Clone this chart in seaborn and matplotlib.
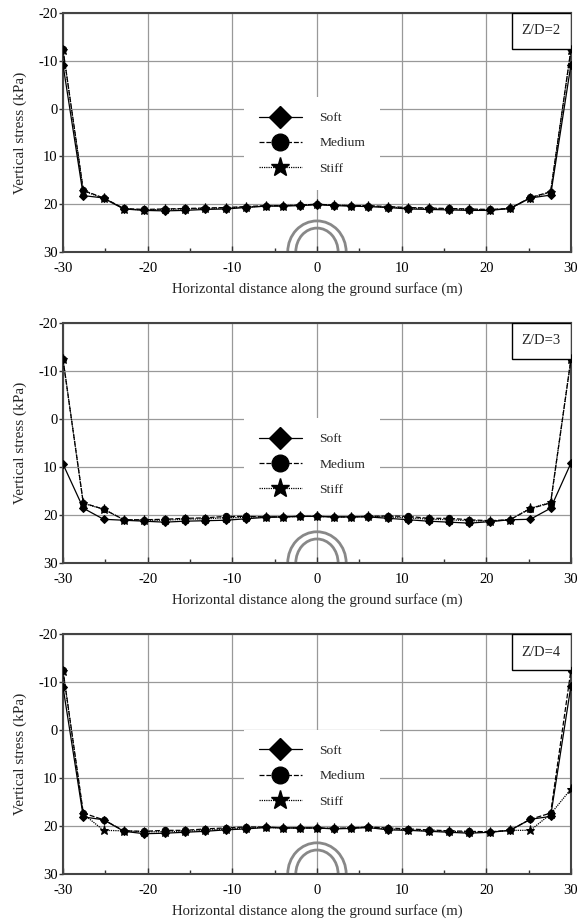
import numpy as np
import pandas as pd
import seaborn as sns
import matplotlib.pyplot as plt
from matplotlib.lines import Line2D
from matplotlib.patches import Arc, Rectangle

# horizontal positions of the surface points (m)
x_pos = [-30, -27.6, -25.2, -22.8, -20.4, -18, -15.6, -13.2, -10.8, -8.4, -6, -4, -2, 0,
         2, 4, 6, 8.4, 10.8, 13.2, 15.6, 18, 20.4, 22.8, 25.2, 27.6, 30]

# Z/D = 2
soft_2 = [-9.2, 18.2, 18.7, 21.0, 21.3, 21.4, 21.3, 21.1, 21.0, 20.7, 20.4, 20.4, 20.3, 20.1,
          20.3, 20.4, 20.5, 20.7, 21.0, 21.1, 21.2, 21.3, 21.3, 20.9, 18.7, 18.1, -9.2]
medium_2 = [-12.4, 17.1, 18.7, 20.9, 21.1, 21.0, 20.9, 20.8, 20.7, 20.5, 20.3, 20.3, 20.2, 20.0,
            20.2, 20.3, 20.3, 20.5, 20.7, 20.8, 20.9, 21.0, 21.1, 20.9, 18.6, 17.4, -12.4]
stiff_2 = [-12.3, 17.2, 18.8, 21.0, 21.2, 21.1, 21.0, 20.9, 20.8, 20.6, 20.4, 20.3, 20.2, 20.0,
           20.2, 20.3, 20.4, 20.6, 20.8, 20.9, 21.0, 21.1, 21.2, 20.9, 18.7, 17.5, -12.3]

# Z/D = 3
soft_3 = [9.4, 18.6, 20.9, 21.1, 21.3, 21.5, 21.3, 21.2, 21.1, 20.8, 20.5, 20.4, 20.3, 20.3,
          20.4, 20.4, 20.4, 20.7, 21.0, 21.3, 21.5, 21.7, 21.4, 21.0, 20.9, 18.6, 9.2]
medium_3 = [-12.4, 17.5, 18.8, 21.0, 21.0, 20.9, 20.7, 20.6, 20.3, 20.3, 20.4, 20.4, 20.3, 20.3,
            20.4, 20.4, 20.3, 20.2, 20.3, 20.7, 20.7, 21.0, 21.2, 21.0, 18.7, 17.5, -12.4]
stiff_3 = [-12.5, 17.6, 18.8, 21.0, 21.1, 21.1, 20.9, 20.8, 20.6, 20.5, 20.4, 20.4, 20.3, 20.3,
           20.4, 20.4, 20.3, 20.4, 20.6, 20.9, 21.0, 21.2, 21.3, 21.0, 18.6, 17.4, -12.4]

# Z/D = 4
soft_4 = [-9.0, 18.1, 18.7, 21.1, 21.6, 21.5, 21.3, 21.1, 20.8, 20.6, 20.3, 20.4, 20.4, 20.4,
          20.6, 20.5, 20.3, 20.8, 20.9, 21.1, 21.3, 21.5, 21.3, 20.9, 18.6, 18.0, -9.2]
medium_4 = [-12.5, 17.3, 18.7, 21.0, 21.1, 20.9, 20.9, 20.6, 20.4, 20.2, 20.2, 20.4, 20.4, 20.4,
            20.5, 20.4, 20.2, 20.4, 20.6, 20.8, 21.0, 21.1, 21.2, 20.9, 18.6, 17.3, -12.5]
stiff_4 = [-12.3, 17.5, 20.9, 21.0, 21.2, 21.2, 21.1, 20.9, 20.6, 20.4, 20.3, 20.4, 20.4, 20.4,
           20.5, 20.4, 20.3, 20.6, 20.8, 21.0, 21.1, 21.3, 21.3, 20.9, 20.9, 17.5, 12.3]

panel_labels = ['Z/D=2', 'Z/D=3', 'Z/D=4']
panel_data = [(soft_2, medium_2, stiff_2), (soft_3, medium_3, stiff_3), (soft_4, medium_4, stiff_4)]
soil_names = ['Soft', 'Medium', 'Stiff']

sns.set_theme(style='ticks')
plt.rcParams['font.family'] = ['Liberation Serif', 'DejaVu Serif']
plt.rcParams['font.size'] = 10
plt.rcParams['axes.unicode_minus'] = False

marker_map = {'Soft': 'D', 'Medium': 'o', 'Stiff': '*'}
dash_map = {'Soft': '', 'Medium': (4, 1.5), 'Stiff': (1, 0.8)}
msize = {'Soft': 4, 'Medium': 4.5, 'Stiff': 6.5}

fig = plt.figure(figsize=(5.82, 9.21), dpi=100)
boxes = [(0.7264, 0.9859), (0.3887, 0.6496), (0.0510, 0.3116)]
legend_y = [0.455, 0.41, 0.408]

for i in range(3):
    bot, top = boxes[i]
    ax = fig.add_axes([0.1082, bot, 0.8728, top - bot])
    rows = []
    for name, vals in zip(soil_names, panel_data[i]):
        for xv, yv in zip(x_pos, vals):
            rows.append({'x': xv, 'stress': yv, 'soil': name})
    df = pd.DataFrame(rows)

    sns.lineplot(data=df, x='x', y='stress', style='soil', markers=marker_map,
                 dashes=dash_map, color='black', linewidth=0.9, markersize=4.5,
                 markeredgecolor='black', legend=False, ax=ax, zorder=3)
    # per-series marker sizes
    for line, name in zip(ax.get_lines(), soil_names):
        line.set_markersize(msize[name])

    ax.set_xlim(-30, 30)
    ax.set_ylim(30, -20)
    ax.set_xticks([-30, -20, -10, 0, 10, 20, 30])
    ax.set_xticks([-25, -15, -5, 5, 15, 25], minor=True)
    ax.set_yticks([-20, -10, 0, 10, 20, 30])
    ax.grid(True, which='major', color='#999999', linewidth=0.9)
    ax.tick_params(axis='x', which='both', direction='in', colors='#333333', labelcolor='black',
                   labelsize=10.5, length=4, width=1, pad=7)
    ax.tick_params(axis='y', direction='out', colors='#333333', labelcolor='black',
                   labelsize=10.5, length=3, width=1, pad=1)
    ax.tick_params(which='minor', length=3)
    for s in ax.spines.values():
        s.set_color('#444444')
        s.set_linewidth(1.5)
        s.set_visible(True)

    ax.set_xlabel('Horizontal distance along the ground surface (m)', fontsize=10.6, labelpad=5)
    ax.set_ylabel('Vertical stress (kPa)', fontsize=11, labelpad=8)

    # tunnel sketch
    ax.add_patch(Arc((0, 30), 6.9, 13.0, theta1=180, theta2=360, color='#888888', lw=2, zorder=2))
    ax.add_patch(Arc((0, 30), 5.0, 10.0, theta1=180, theta2=360, color='#888888', lw=2, zorder=2))

    # Z/D label box
    ax.add_patch(Rectangle((0.883, 0.85), 0.117, 0.15, transform=ax.transAxes,
                           facecolor='white', edgecolor='black', lw=1, zorder=4))
    ax.text(0.9415, 0.925, panel_labels[i], transform=ax.transAxes, ha='center', va='center',
            fontsize=10.5, zorder=5)

    handles = [Line2D([], [], color='black', lw=0.9, marker=marker_map[n],
                      markersize={'Soft': 11, 'Medium': 12, 'Stiff': 14}[n],
                      linestyle={'Soft': '-', 'Medium': (0, (4, 1.5)), 'Stiff': (0, (1, 0.8))}[n])
               for n in soil_names]
    leg = ax.legend(handles, soil_names, loc='center', bbox_to_anchor=(0.49, legend_y[i]),
                    frameon=True, fancybox=False, framealpha=1, facecolor='white',
                    edgecolor='none', fontsize=9.7, handlelength=3.2, handletextpad=1.3,
                    labelspacing=0.95, borderpad=1.1)
    leg.set_zorder(6)

fig.savefig('out.png', dpi=100)
